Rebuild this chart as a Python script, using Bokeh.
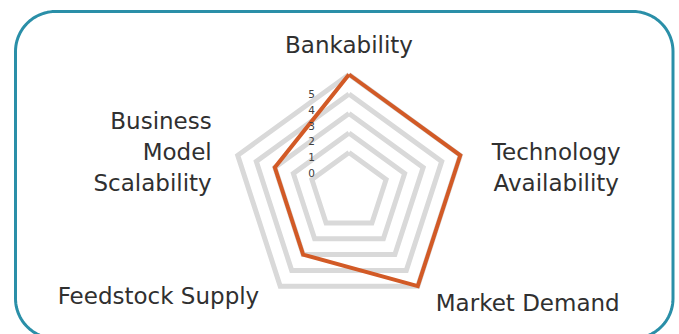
import numpy as np
from bokeh.plotting import figure
from bokeh.models import Range1d, ColumnDataSource
from bokeh.core.properties import value
from bokeh.embed import file_html
from bokeh.resources import INLINE

# ---------------- data ----------------
categories = ["Bankability", "Technology Availability", "Market Demand",
              "Feedstock Supply", "Business Model Scalability"]
category_labels = ["Bankability", "Technology\nAvailability", "Market Demand",
                   "Feedstock Supply", "Business\nModel\nScalability"]
scores = [5, 5, 5, 3, 3]
ring_values = [1, 2, 3, 4, 5]
tick_values = [0, 1, 2, 3, 4, 5]
tick_labels = ["0", "1", "2", "3", "4", "5"]

# ---------------- layout ----------------
W, H = 679, 334
CX, CY = 348.5, 191.0          # chart centre inside the figure (px)
V_MIN = -1.0                   # value at the centre
UNIT = 19.5                    # px per value unit
TICK_STEP = 15.8
TICK_X = -37.5
FONT = "DejaVu Sans"
TEXT_COLOR = "#404040"
GRID_COLOR = "#D9D9D9"
SERIES_COLOR = "#D25A26"
BORDER_COLOR = "#2A8FA8"

n = len(categories)
angles = np.pi / 2 - 2 * np.pi * np.arange(n) / n


def radius(v):
    return (np.asarray(v, dtype=float) - V_MIN) * UNIT


def polygon(vals):
    r = radius(vals)
    xs = list(r * np.cos(angles))
    ys = list(r * np.sin(angles))
    return xs + xs[:1], ys + ys[:1]


p = figure(width=W, height=H, output_backend="svg", toolbar_location=None,
           x_range=Range1d(-CX, W - CX), y_range=Range1d(CY - H, CY),
           x_axis_location=None, y_axis_location=None, min_border=0)
p.grid.visible = False
p.outline_line_color = None
p.background_fill_color = "white"

# rounded border frame (page px -> data coords)
left, right, top, bottom, rad = 15, 672.5, 11, 338, 40
def sx(x):
    return x - CX
def sy(y):
    return CY - y
t = np.linspace(0, np.pi / 2, 24)
bx, by = [], []
bx += list(left + rad - rad * np.cos(t)); by += list(top + rad - rad * np.sin(t))
bx += list(right - rad + rad * np.sin(t)); by += list(top + rad - rad * np.cos(t))
bx += list(right - rad + rad * np.cos(t)); by += list(bottom - rad + rad * np.sin(t))
bx += list(left + rad - rad * np.sin(t)); by += list(bottom - rad + rad * np.cos(t))
bx.append(bx[0]); by.append(by[0])
p.line([sx(x) for x in bx], [sy(y) for y in by], line_color=BORDER_COLOR, line_width=3)

# grid rings
for rv in ring_values:
    xs, ys = polygon([rv] * n)
    p.line(xs, ys, line_color=GRID_COLOR, line_width=5, line_join="miter")

# series
xs, ys = polygon(scores)
p.line(xs, ys, line_color=SERIES_COLOR, line_width=4, line_join="miter")

# tick labels
tick_src = ColumnDataSource(dict(
    x=[TICK_X] * len(tick_values),
    y=[radius(0) + v * TICK_STEP - 1 for v in tick_values],
    text=tick_labels))
p.text("x", "y", text="text", source=tick_src, text_font=value(FONT),
       text_font_size="10.5px", text_color=TEXT_COLOR, text_align="center",
       text_baseline="middle")

# category labels: offsets from outer vertices
label_offsets = [(0, 30, "center"), (96, -12.5, "center"), (18, -17, "left"),
                 (-21, -10, "right"), (-26, 3.5, "right")]
r_out = radius(max(ring_values))
lx, ly, la = [], [], []
for i, (dx, dy, al) in enumerate(label_offsets):
    lx.append(r_out * np.cos(angles[i]) + dx)
    ly.append(r_out * np.sin(angles[i]) + dy)
    la.append(al)
lab_src = ColumnDataSource(dict(x=lx, y=ly, text=category_labels, align=la))
p.text("x", "y", text="text", source=lab_src, text_font=value(FONT),
       text_font_size="23px", text_color="#303030", text_align="align",
       text_baseline="middle", text_line_height=1.2)

open("out.html", "w").write(file_html(p, INLINE))
